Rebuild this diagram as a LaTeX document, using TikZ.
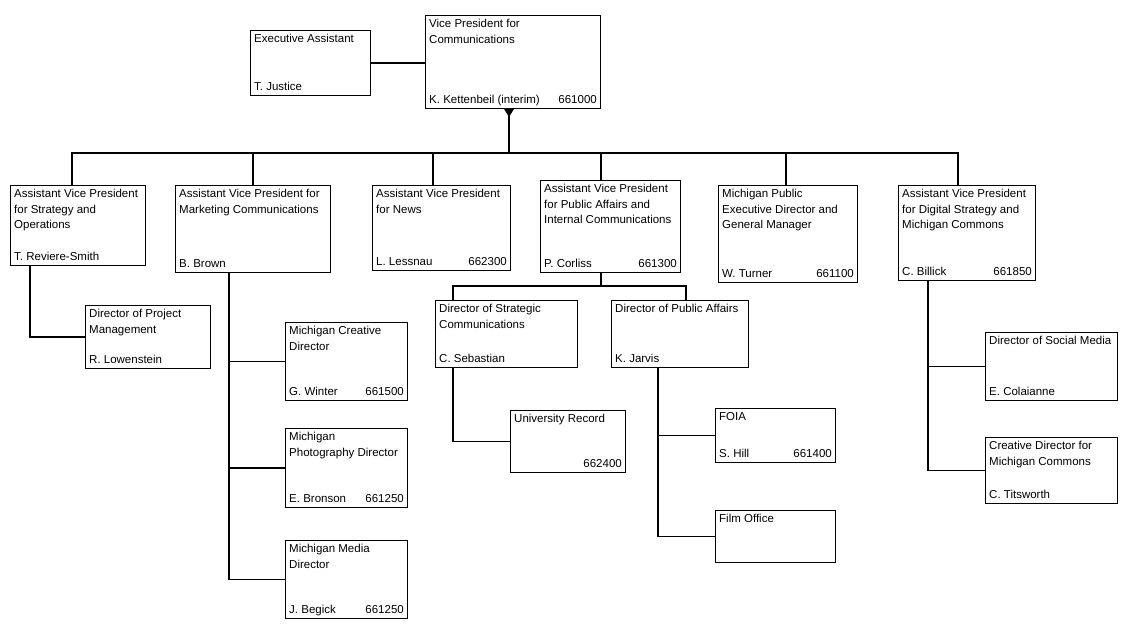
\documentclass[tikz,border=0pt]{standalone}
\usepackage{fontspec}
\setmainfont{Liberation Sans}
\usetikzlibrary{positioning}

\tikzset{
  unitbox/.style={draw=black, line width=1pt, rectangle, anchor=north west, inner sep=0pt},
  boxtext/.style={inner sep=0pt, font=\fontsize{11.5}{15.5}\selectfont, align=left},
  link/.style={line width=1.6pt}
}
% \orgbox{name}{left}{top}{width}{height}{title}{person}{number}
\newcommand{\orgbox}[8]{%
  \node[unitbox, minimum width=#4pt, minimum height=#5pt] (#1) at (#2,#3) {};
  \node[boxtext, anchor=north west] (#1-t) at ([shift={(4pt,-4pt)}]#1.north west) {#6};
  \node[boxtext, anchor=base west] (#1-p) at ([shift={(4pt,6pt)}]#1.south west) {#7};
  \node[boxtext, anchor=base east] (#1-n) at ([shift={(-4pt,6pt)}]#1.south east) {#8};
}

\begin{document}
\begin{tikzpicture}[x=1pt,y=-1pt]
  \useasboundingbox (0,0) rectangle (1136,627);
  % top level
  \orgbox{ea}{250}{30}{120}{65}{Executive Assistant}{T. Justice}{}
  \orgbox{vp}{425}{15}{175}{93}{Vice President for\\Communications}{K. Kettenbeil (interim)}{661000}
  % second level
  \orgbox{avpa}{10}{185}{135}{80}{Assistant Vice President\\for Strategy and\\Operations}{T. Reviere-Smith}{}
  \orgbox{avpb}{175}{185}{155}{87}{Assistant Vice President for\\Marketing Communications}{B. Brown}{}
  \orgbox{avpc}{372}{185}{138}{85}{Assistant Vice President\\for News}{L. Lessnau}{662300}
  \orgbox{avpd}{540}{180}{140}{92}{Assistant Vice President\\for Public Affairs and\\Internal Communications}{P. Corliss}{661300}
  \orgbox{avpe}{718}{185}{139}{97}{Michigan Public\\Executive Director and\\General Manager}{W. Turner}{661100}
  \orgbox{avpf}{898}{185}{137}{95}{Assistant Vice President\\for Digital Strategy and\\Michigan Commons}{C. Billick}{661850}
  % third level
  \orgbox{pm}{85}{305}{125}{63}{Director of Project\\Management}{R. Lowenstein}{}
  \orgbox{crea}{285}{322}{122}{78}{Michigan Creative\\Director}{G. Winter}{661500}
  \orgbox{photo}{285}{428}{122}{79}{Michigan\\Photography Director}{E. Bronson}{661250}
  \orgbox{media}{285}{540}{122}{78}{Michigan Media\\Director}{J. Begick}{661250}
  \orgbox{strat}{435}{300}{142}{67}{Director of Strategic\\Communications}{C. Sebastian}{}
  \orgbox{pub}{611}{300}{137}{67}{Director of Public Affairs}{K. Jarvis}{}
  \orgbox{social}{985}{332}{132}{68}{Director of Social Media}{E. Colaianne}{}
  \orgbox{cdmc}{985}{437}{132}{66}{Creative Director for\\Michigan Commons}{C. Titsworth}{}
  % fourth level
  \orgbox{rec}{510}{410}{115}{62}{University Record}{}{662400}
  \orgbox{foia}{715}{408}{120}{54}{FOIA}{S. Hill}{661400}
  \orgbox{film}{715}{510}{120}{52}{Film Office}{}{}

  % connectors
  \draw[link] (ea.east) -- (ea.east -| vp.west);
  \coordinate (top) at (509,0);
  \draw[link] (vp.south -| top) -- ++(0,44) coordinate (bus);
  \fill (vp.south -| top) ++(-5,0) -- ++(10,0) -- ++(-5,8) -- cycle;
  \draw[link] (avpa.north -| 72,0) -- (bus -| 72,0) -- (bus -| 958,0) -- (avpf.north -| 958,0);
  \foreach \n/\x in {avpb/253,avpc/433,avpd/601,avpe/786}
    \draw[link] (\n.north -| \x,0) -- (bus -| \x,0);

  \coordinate (sa) at (30,0);
  \coordinate (sb) at (229,0);
  \coordinate (sc) at (453,0);
  \coordinate (sd) at (658,0);
  \coordinate (sf) at (928,0);
  \draw[link] (avpa.south -| sa) |- (pm.west);
  \foreach \n in {crea,photo,media}
    \draw[link] (avpb.south -| sb) |- (\n.west);
  \draw[link] (avpd.south -| 601,0) -- ++(0,13) coordinate (pd);
  \draw[link] (strat.north -| sc) -- (pd -| sc) -- (pd -| 686,0) -- (pub.north -| 686,0);
  \draw[link] (strat.south -| sc) |- (rec.west);
  \foreach \n in {foia,film}
    \draw[link] (pub.south -| sd) |- (\n.west);
  \foreach \n in {social,cdmc}
    \draw[link] (avpf.south -| sf) |- (\n.west);
\end{tikzpicture}
\end{document}
